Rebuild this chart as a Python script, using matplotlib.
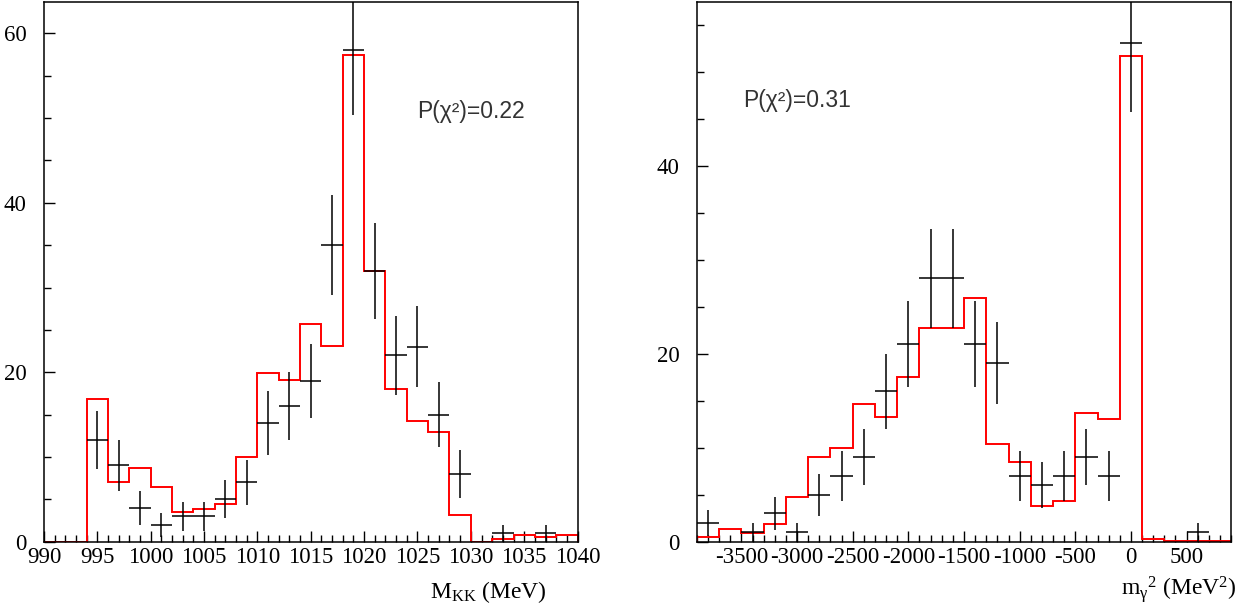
import numpy as np
import matplotlib
matplotlib.use("Agg")
import matplotlib.pyplot as plt
from matplotlib.ticker import MultipleLocator

plt.rcParams["font.family"] = ["Liberation Serif", "DejaVu Serif"]
plt.rcParams["mathtext.fontset"] = "custom"
plt.rcParams["mathtext.rm"] = "Liberation Serif"
plt.rcParams["mathtext.it"] = "Liberation Serif:italic"
plt.rcParams["axes.unicode_minus"] = False

# left panel: M_KK, 2 MeV bins from 990 to 1040
kk_edges = np.arange(990, 1041, 2)
kk_data = [0, 0, 12, 9, 4, 2, 3, 3, 5, 7, 14, 16, 19, 35, 58,
           32, 22, 23, 15, 8, 0, 1, 0, 1, 0]
kk_fit = [0, 0, 16.8, 7.1, 8.7, 6.5, 3.55, 3.9, 4.5, 10.05, 19.95, 19.1, 25.7,
          23.1, 57.4, 31.9, 18.0, 14.3, 12.9, 3.2, 0.0, 0.35, 0.8, 0.5, 0.8]
kk_text = "P(\u03c7\u00b2)=0.22"

# right panel: m_gamma^2, 200 MeV^2 bins from -3900 to 900
mg_edges = np.arange(-3900, 901, 200)
mg_data = [2, 0, 1, 3, 1, 5, 7, 9, 16, 21, 28, 28, 21, 19, 7, 6, 7, 9, 7,
           53, 0, 0, 1, 0]
mg_fit = [0.46, 1.39, 0.92, 1.88, 4.72, 9.0, 9.95, 14.6, 13.3, 17.5, 22.7,
          22.7, 25.9, 10.4, 8.5, 3.77, 4.3, 13.7, 13.0, 51.7, 0.28, 0.04,
          0.04, 0.04]
mg_text = "P(\u03c7\u00b2)=0.31"

fig = plt.figure(figsize=(12.45, 6.12), dpi=100)
ax1 = fig.add_axes([0.0353, 0.1149, 0.4286, 0.8818])
ax2 = fig.add_axes([0.5598, 0.1149, 0.4290, 0.8818])


def draw(ax, edges, data, fit, ylim, xmaj, xmin):
    edges = np.asarray(edges, dtype=float)
    data = np.asarray(data, dtype=float)
    centers = 0.5 * (edges[:-1] + edges[1:])
    halfw = 0.5 * (edges[1] - edges[0])
    ax.stairs(fit, edges, color="#ff0000", lw=1.4, baseline=0, zorder=2)
    m = data > 0  # empty bins are not drawn
    ax.errorbar(centers[m], data[m], yerr=np.sqrt(data[m]), xerr=halfw,
                fmt="none", ecolor="black", elinewidth=1.1, capsize=0,
                zorder=3)
    ax.set_xlim(edges[0], edges[-1])
    ax.set_ylim(*ylim)
    ax.xaxis.set_major_locator(MultipleLocator(xmaj))
    ax.xaxis.set_minor_locator(MultipleLocator(xmin))
    ax.yaxis.set_major_locator(MultipleLocator(20))
    ax.yaxis.set_minor_locator(MultipleLocator(5))
    ax.tick_params(which="both", direction="in", top=False, right=False,
                   width=1.0, labelsize=16.5)
    ax.tick_params(which="major", length=8, pad=4)
    ax.tick_params(which="minor", length=5)
    ax.tick_params(axis="y", which="major", pad=12.5)
    for s in ax.spines.values():
        s.set_linewidth(1.1)


draw(ax1, kk_edges, kk_data, kk_fit, (0, 63.7), 5, 1)
draw(ax2, mg_edges, mg_data, mg_fit, (0, 57.4), 500, 100)

ax1.text(0.699, 0.798, kk_text, transform=ax1.transAxes, ha="left",
         va="center", fontsize=16.5, family=["Liberation Sans", "DejaVu Sans"],
         color="#333333")
ax2.text(0.086, 0.817, mg_text, transform=ax2.transAxes, ha="left",
         va="center", fontsize=16.5, family=["Liberation Sans", "DejaVu Sans"],
         color="#333333")

ax1.text(0.943, -0.104, r"M$_{\mathrm{KK}}$ (MeV)", transform=ax1.transAxes,
         ha="right", va="baseline", fontsize=17)
ax2.text(1.011, -0.100, r"m$_{\mathrm{\gamma}}$$^{2}$ (MeV$^{2}$)",
         transform=ax2.transAxes, ha="right", va="baseline", fontsize=17)

fig.savefig("out.png", dpi=100)
